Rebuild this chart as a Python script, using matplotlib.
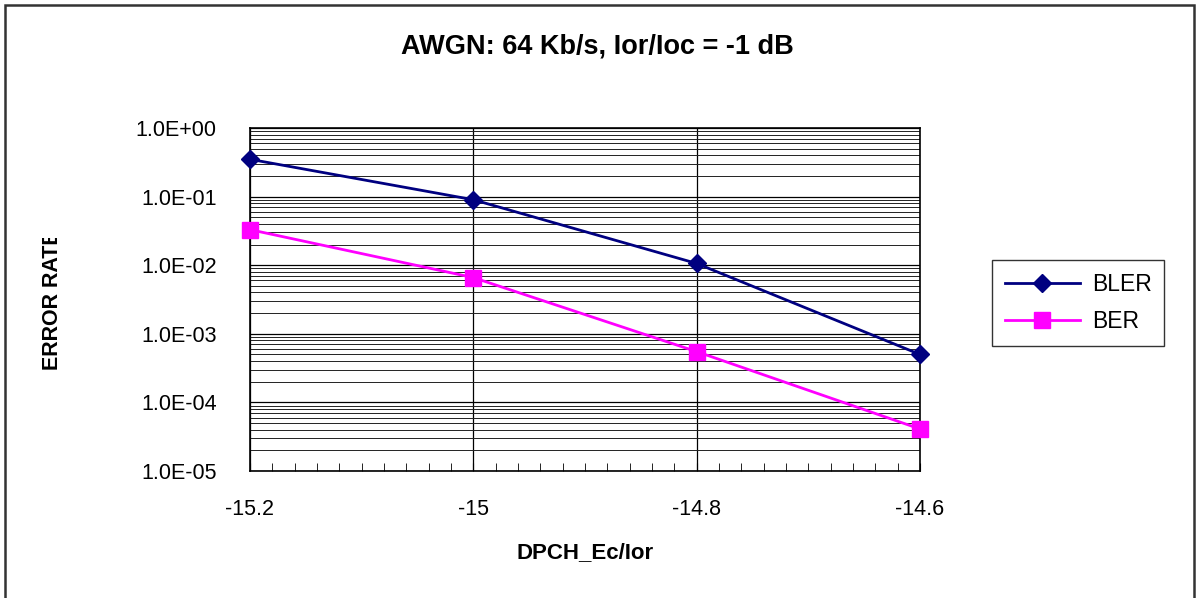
import matplotlib
matplotlib.use("Agg")
import matplotlib.pyplot as plt
from matplotlib.patches import Rectangle
from matplotlib.transforms import Bbox
from matplotlib.ticker import FixedLocator, LogLocator, NullFormatter
import numpy as np

# ---- data ----
x_values = [-15.2, -15.0, -14.8, -14.6]
bler = [0.35, 0.090, 0.0106, 0.00050]
ber = [0.033, 0.0066, 0.00055, 0.000041]
x_ticks = [-15.2, -15.0, -14.8, -14.6]
x_tick_labels = ["-15.2", "-15", "-14.8", "-14.6"]
y_ticks = [1e0, 1e-1, 1e-2, 1e-3, 1e-4, 1e-5]
y_tick_labels = ["1.0E+00", "1.0E-01", "1.0E-02", "1.0E-03", "1.0E-04", "1.0E-05"]
title = "AWGN: 64 Kb/s, Ior/Ioc = -1 dB"
xlabel = "DPCH_Ec/Ior"
ylabel = "ERROR RATE"
series_names = ["BLER", "BER"]

plt.rcParams['font.family'] = ['Liberation Sans', 'DejaVu Sans']

W, H = 1197, 598
fig = plt.figure(figsize=(W / 100, H / 100), dpi=100)
fig.patch.set_facecolor("white")

# figure border
fig.patches.append(Rectangle((5 / W, -0.05), (1194 - 5) / W, 1 - 5 / H + 0.05,
                             transform=fig.transFigure, fill=False,
                             edgecolor="#333333", linewidth=1.8))

left, right, top, bottom = 250, 920, 128, 471
ax = fig.add_axes([left / W, 1 - bottom / H, (right - left) / W, (bottom - top) / H])

ax.set_yscale("log")
ax.set_xlim(-15.2, -14.6)
ax.set_ylim(1e-5, 1e0)

ax.yaxis.set_major_locator(FixedLocator(y_ticks))
ax.yaxis.set_minor_locator(LogLocator(base=10, subs=np.arange(2, 10) * 1.0, numticks=20))
ax.yaxis.set_minor_formatter(NullFormatter())
ax.set_yticks(y_ticks)
ax.set_yticklabels(y_tick_labels)
ax.set_xticks(x_ticks)
ax.set_xticklabels(x_tick_labels)
ax.set_xticks(np.arange(-15.2, -14.599, 0.02), minor=True)

ax.grid(True, which="major", axis="y", color="black", linewidth=0.9)
ax.grid(True, which="minor", axis="y", color="#222222", linewidth=0.7)
ax.grid(True, which="major", axis="x", color="black", linewidth=0.9)
ax.set_axisbelow(True)

ax.tick_params(axis="y", which="both", length=0, pad=24, labelsize=15.5)
ax.tick_params(axis="x", which="major", length=6, direction="in", pad=20.5, labelsize=15.5)
ax.tick_params(axis="x", which="minor", length=6, direction="in")
for s in ax.spines.values():
    s.set_color("black")
    s.set_linewidth(1.2)

ax.plot(x_values, bler, color="#000080", linewidth=2, marker="D", markersize=9.5,
        markerfacecolor="#000080", markeredgecolor="#000080", label=series_names[0],
        clip_on=False, zorder=5)
ax.plot(x_values, ber, color="#FF00FF", linewidth=2, marker="s", markersize=12,
        markerfacecolor="#FF00FF", markeredgecolor="#FF00FF", label=series_names[1],
        clip_on=False, zorder=5)

fig.text(597 / W, 1 - 47 / H, title, ha="center", va="center",
         fontsize=19.5, fontweight="bold")
fig.text(585 / W, 1 - 553 / H, xlabel, ha="center", va="center",
         fontsize=16, fontweight="bold")
yl = fig.text(53 / W, 1 - 300 / H, ylabel, ha="center", va="center",
              rotation=90, fontsize=15.5, fontweight="bold")
yl.set_clip_on(True)
yl.set_clip_box(Bbox.from_extents(0, 0, W, H - 238))

leg = ax.legend(loc="upper left", bbox_to_anchor=(992 / W, 1 - 260 / H),
                bbox_transform=fig.transFigure, frameon=True, fancybox=False,
                edgecolor="black", fontsize=16.5, handlelength=3.3,
                borderpad=0.55, labelspacing=0.65, handletextpad=0.5,
                borderaxespad=0)
leg.get_frame().set_linewidth(1.0)

fig.savefig("out.png", dpi=100, facecolor="white")
